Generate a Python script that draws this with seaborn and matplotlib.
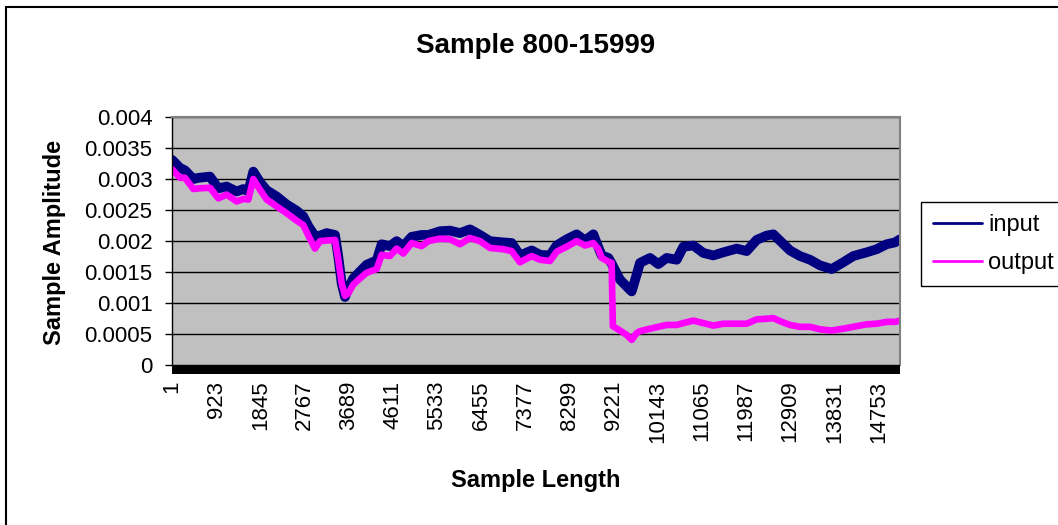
import matplotlib
matplotlib.use("Agg")
import matplotlib.pyplot as plt
import seaborn as sns
import pandas as pd
from matplotlib.patches import Rectangle

# ---- data ----
samples = [1, 168, 272, 446, 550, 793, 967, 1141, 1350, 1490, 1594, 1698, 1837, 1977,
           2185, 2394, 2603, 2742, 2847, 2986, 3090, 3230, 3404, 3473, 3543, 3612, 3682,
           3786, 3925, 4065, 4274, 4378, 4552, 4691, 4830, 5004, 5213, 5352, 5596, 5805,
           6013, 6222, 6431, 6640, 6918, 7092, 7266, 7510, 7684, 7892, 8032, 8241, 8450,
           8624, 8798, 8903, 8972, 9111, 9180, 9205, 9354, 9493, 9598, 9702, 9772, 9981,
           10155, 10329, 10538, 10677, 10886, 11094, 11303, 11512, 11791, 11999, 12208,
           12417, 12556, 12730, 12904, 13113, 13322, 13530, 13774, 14017, 14226, 14504,
           14713, 14922, 15096, 15200]
input_vals = [0.00331, 0.00318, 0.00314, 0.00300, 0.00302, 0.00304, 0.00285, 0.00288,
              0.00280, 0.00284, 0.00280, 0.00312, 0.00295, 0.00282, 0.00272, 0.00259,
              0.00249, 0.00240, 0.00224, 0.00208, 0.00209, 0.00213, 0.00210, 0.00175,
              0.00132, 0.00110, 0.00124, 0.00140, 0.00151, 0.00162, 0.00169, 0.00195,
              0.00192, 0.00200, 0.00192, 0.00207, 0.00210, 0.00210, 0.00216, 0.00217,
              0.00213, 0.00219, 0.00210, 0.00200, 0.00198, 0.00197, 0.00177, 0.00185,
              0.00178, 0.00177, 0.00193, 0.00203, 0.00211, 0.00201, 0.00211, 0.00190,
              0.00177, 0.00173, 0.00164, 0.00160, 0.00138, 0.00127, 0.00119, 0.00146,
              0.00165, 0.00173, 0.00163, 0.00173, 0.00170, 0.00191, 0.00193, 0.00181,
              0.00177, 0.00182, 0.00188, 0.00184, 0.00202, 0.00209, 0.00211, 0.00198,
              0.00185, 0.00176, 0.00170, 0.00161, 0.00155, 0.00166, 0.00176, 0.00182,
              0.00187, 0.00195, 0.00198, 0.00203]
output_vals = [0.00316, 0.00302, 0.00302, 0.00284, 0.00285, 0.00286, 0.00269, 0.00275,
               0.00264, 0.00268, 0.00267, 0.00300, 0.00283, 0.00267, 0.00256, 0.00245,
               0.00233, 0.00226, 0.00209, 0.00188, 0.00200, 0.00201, 0.00202, 0.00170,
               0.00132, 0.00112, 0.00116, 0.00130, 0.00140, 0.00149, 0.00155, 0.00178,
               0.00176, 0.00188, 0.00180, 0.00197, 0.00192, 0.00200, 0.00204, 0.00203,
               0.00195, 0.00205, 0.00200, 0.00189, 0.00187, 0.00184, 0.00166, 0.00176,
               0.00170, 0.00168, 0.00183, 0.00191, 0.00200, 0.00193, 0.00197, 0.00187,
               0.00173, 0.00167, 0.00165, 0.00063, 0.00056, 0.00049, 0.00041, 0.00052,
               0.00055, 0.00059, 0.00062, 0.00065, 0.00065, 0.00068, 0.00072, 0.00068,
               0.00064, 0.00067, 0.00067, 0.00067, 0.00074, 0.00075, 0.00076, 0.00070,
               0.00065, 0.00062, 0.00062, 0.00058, 0.00056, 0.00059, 0.00062, 0.00066,
               0.00067, 0.00070, 0.00070, 0.00072]
series_names = ["input", "output"]
x_tick_values = [1, 923, 1845, 2767, 3689, 4611, 5533, 6455, 7377, 8299, 9221,
                 10143, 11065, 11987, 12909, 13831, 14753]
y_tick_values = [0, 0.0005, 0.001, 0.0015, 0.002, 0.0025, 0.003, 0.0035, 0.004]
y_tick_labels = ["0", "0.0005", "0.001", "0.0015", "0.002", "0.0025", "0.003", "0.0035", "0.004"]
title_text = "Sample 800-15999"
x_label = "Sample Length"
y_label = "Sample Amplitude"

# ---- style ----
sns.set_style("white")
plt.rcParams["font.family"] = ["Liberation Sans", "DejaVu Sans"]
plt.rcParams["text.color"] = "black"
plt.rcParams["xtick.color"] = "black"
plt.rcParams["ytick.color"] = "black"
plt.rcParams["xtick.labelcolor"] = "black"
plt.rcParams["ytick.labelcolor"] = "black"

W, H = 1058, 525
fig = plt.figure(figsize=(W / 100, H / 100), dpi=100)
fig.patch.set_facecolor("white")

ax_left, ax_right, ax_top, ax_bot = 172, 900, 117, 365.3
ax = fig.add_axes([ax_left / W, 1 - ax_bot / H, (ax_right - ax_left) / W, (ax_bot - ax_top) / H])
ax.set_facecolor("#C0C0C0")

df = pd.DataFrame({"sample": samples, series_names[0]: input_vals, series_names[1]: output_vals})
sns.lineplot(data=df, x="sample", y=series_names[0], ax=ax, color="#000080",
             linewidth=7.0, label=series_names[0], sort=False)
sns.lineplot(data=df, x="sample", y=series_names[1], ax=ax, color="#FF00FF",
             linewidth=4.8, label=series_names[1], sort=False)

ax.set_xlim(0.5, 15200.5)
ax.set_ylim(0, 0.004)
ax.set_yticks(y_tick_values)
ax.set_yticklabels(y_tick_labels, fontsize=16, color="black")
ax.set_xticks(x_tick_values)
ax.set_xticklabels([str(v) for v in x_tick_values], rotation=90, fontsize=16, color="black")
ax.tick_params(axis="y", which="major", left=True, length=5, width=1, color="black", pad=9)
ax.tick_params(axis="x", which="major", bottom=True, length=0, pad=11)
ax.set_xlabel("")
ax.set_ylabel("")

ax.yaxis.grid(True, color="black", linewidth=1.0)
ax.xaxis.grid(False)
ax.set_axisbelow(True)

for side in ["top", "right"]:
    ax.spines[side].set_color("#808080")
    ax.spines[side].set_linewidth(1.5)
ax.spines["left"].set_color("black")
ax.spines["left"].set_linewidth(1.0)
ax.spines["bottom"].set_visible(False)

# dense category tick marks form a black band under the plot area
band_h = 9 / (ax_bot - ax_top)
ax.add_patch(Rectangle((0, -band_h), 1, band_h, transform=ax.transAxes,
                       clip_on=False, facecolor="black", edgecolor="none", zorder=5))

# texts
fig.text(536 / W, 1 - 46 / H, title_text, ha="center", va="center",
         fontsize=20, fontweight="bold", color="black")
fig.text(536 / W, 1 - 480 / H, x_label, ha="center", va="center",
         fontsize=17, fontweight="bold", color="black")
fig.text(54 / W, 1 - 242 / H, y_label, ha="center", va="center", rotation=90,
         fontsize=17, fontweight="bold", color="black")

# legend
leg = ax.legend(loc="upper left", bbox_to_anchor=(921 / W, 1 - 202 / H),
                bbox_transform=fig.transFigure, fontsize=17, frameon=True,
                fancybox=False, edgecolor="black", framealpha=1, borderaxespad=0,
                handlelength=2.1, handletextpad=0.25, borderpad=0.5, labelspacing=0.7)
leg.get_frame().set_linewidth(1.0)
for h in leg.legend_handles:
    h.set_linewidth(2)
for t in leg.get_texts():
    t.set_color("black")

# outer chart border
fig.patches.append(Rectangle((6 / W, -0.1), 1.2, 1.1 - 7 / H, transform=fig.transFigure,
                             fill=False, edgecolor="black", linewidth=1.5))

fig.savefig("out.png", dpi=100)
